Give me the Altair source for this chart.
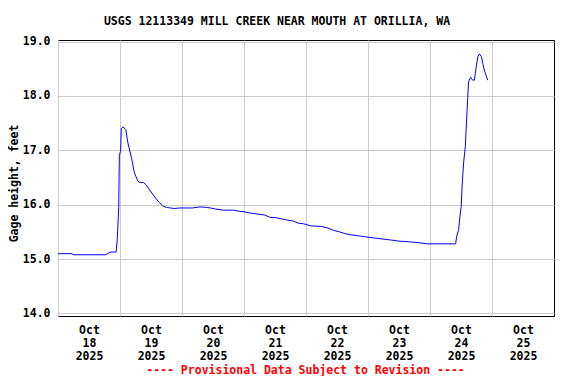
import altair as alt
import pandas as pd

# Gage height readings (UTC-like clock times, feet)
times = [
    "2025-10-18T00:00", "2025-10-18T05:30", "2025-10-18T05:45", "2025-10-18T18:30",
    "2025-10-18T19:30", "2025-10-18T20:30", "2025-10-18T22:30", "2025-10-18T23:00",
    "2025-10-18T23:30", "2025-10-18T23:45", "2025-10-19T00:15", "2025-10-19T00:30",
    "2025-10-19T01:15", "2025-10-19T02:15", "2025-10-19T03:00", "2025-10-19T04:30",
    "2025-10-19T05:30", "2025-10-19T06:45", "2025-10-19T07:30", "2025-10-19T09:00",
    "2025-10-19T10:00", "2025-10-19T11:30", "2025-10-19T13:30", "2025-10-19T15:00",
    "2025-10-19T16:30", "2025-10-19T18:00", "2025-10-19T21:00", "2025-10-19T23:00",
    "2025-10-20T04:00", "2025-10-20T07:00", "2025-10-20T09:30", "2025-10-20T11:00",
    "2025-10-20T13:00", "2025-10-20T16:00", "2025-10-20T20:00", "2025-10-20T22:00",
    "2025-10-21T00:00", "2025-10-21T02:00", "2025-10-21T05:00", "2025-10-21T08:00",
    "2025-10-21T10:00", "2025-10-21T12:30", "2025-10-21T14:30", "2025-10-21T16:30",
    "2025-10-21T19:00", "2025-10-21T21:00", "2025-10-21T23:00", "2025-10-22T02:00",
    "2025-10-22T06:00", "2025-10-22T08:30", "2025-10-22T10:30", "2025-10-22T13:00",
    "2025-10-22T15:00", "2025-10-22T17:00", "2025-10-22T20:00", "2025-10-22T23:00",
    "2025-10-23T02:00", "2025-10-23T05:30", "2025-10-23T09:00", "2025-10-23T12:00",
    "2025-10-23T15:30", "2025-10-23T20:00", "2025-10-23T23:00", "2025-10-24T09:55",
    "2025-10-24T10:20", "2025-10-24T11:05", "2025-10-24T11:35", "2025-10-24T12:05",
    "2025-10-24T12:25", "2025-10-24T13:00", "2025-10-24T13:40", "2025-10-24T14:20",
    "2025-10-24T14:55", "2025-10-24T15:40", "2025-10-24T16:30", "2025-10-24T17:10",
    "2025-10-24T18:00", "2025-10-24T18:35", "2025-10-24T19:10", "2025-10-24T19:55",
    "2025-10-24T20:25", "2025-10-24T21:10", "2025-10-24T21:55", "2025-10-24T22:20",
]
gage_ft = [
    15.10, 15.10, 15.08, 15.08,
    15.11, 15.13, 15.13, 15.40,
    15.95, 16.90, 17.00, 17.40,
    17.43, 17.38, 17.15, 16.85,
    16.60, 16.45, 16.41, 16.41,
    16.37, 16.27, 16.14, 16.05,
    15.98, 15.95, 15.93, 15.94,
    15.94, 15.96, 15.95, 15.94,
    15.92, 15.90, 15.90, 15.88,
    15.87, 15.85, 15.83, 15.81,
    15.77, 15.76, 15.74, 15.72,
    15.70, 15.66, 15.65, 15.61,
    15.60, 15.57, 15.53, 15.50,
    15.47, 15.45, 15.43, 15.41,
    15.39, 15.37, 15.35, 15.33,
    15.32, 15.30, 15.28, 15.28,
    15.42, 15.54, 15.79, 15.97,
    16.34, 16.77, 17.07, 17.71,
    18.26, 18.34, 18.29, 18.29,
    18.57, 18.73, 18.77, 18.72,
    18.60, 18.45, 18.35, 18.29,
]
day_ticks = [18, 19, 20, 21, 22, 23, 24, 25]
y_ticks = [14.0, 15.0, 16.0, 17.0, 18.0, 19.0]

df = pd.DataFrame({"time": [t + ":00Z" for t in times], "gage": gage_ft})

FONT = "DejaVu Sans Mono"

x_axis = alt.Axis(
    values=[alt.DateTime(year=2025, month=10, date=d, utc=True) for d in day_ticks],
    labelExpr="[utcFormat(datum.value, '%b'), utcFormat(datum.value, '%d'), utcFormat(datum.value, '%Y')]",
    labelOffset=31,
    labelPadding=8,
    labelLineHeight=13,
    labelBound=False,
    labelFlush=False,
    labelOverlap=False,
    ticks=False,
    domain=False,
    grid=True,
    title="---- Provisional Data Subject to Revision ----",
    titleColor="#ff0000",
    titleX=247,
    titleY=54,
    titleBaseline="middle",
    titleAlign="center",
    titleAnchor="start",
)

y_axis = alt.Axis(
    values=y_ticks,
    format=".1f",
    labelPadding=8,
    ticks=False,
    domain=False,
    grid=True,
    title="Gage height, feet",
    titleX=-44,
    titleY=143,
    titleBaseline="middle",
    titleAlign="center",
    titleAngle=270,
)

chart = (
    alt.Chart(df)
    .mark_line(color="#0000ff", strokeWidth=1, interpolate="linear")
    .encode(
        x=alt.X(
            "time:T",
            scale=alt.Scale(
                type="utc",
                domain=[
                    alt.DateTime(year=2025, month=10, date=18, utc=True),
                    alt.DateTime(year=2025, month=10, date=26, utc=True),
                ],
                nice=False,
            ),
            axis=x_axis,
        ),
        y=alt.Y(
            "gage:Q",
            scale=alt.Scale(domain=[13.954, 19.028], nice=False, zero=False),
            axis=y_axis,
        ),
    )
    .properties(
        width=496,
        height=276,
        title=alt.TitleParams(
            "USGS 12113349 MILL CREEK NEAR MOUTH AT ORILLIA, WA",
            anchor="middle",
            dx=-29,
            offset=-3,
            baseline="bottom",
            font=FONT,
            fontSize=11.5,
            fontWeight="bold",
            color="black",
        ),
        autosize=alt.AutoSizeParams(type="none"),
        padding={"left": 50, "top": 32, "right": 14, "bottom": 60},
    )
    .configure_view(stroke="black", strokeWidth=1)
    .configure_axis(
        labelFont=FONT,
        labelFontSize=11.5,
        labelFontWeight="bold",
        labelColor="black",
        titleFont=FONT,
        titleFontSize=11.5,
        titleFontWeight="bold",
        titleColor="black",
        gridColor="#cccccc",
        gridWidth=1,
        gridOpacity=1,
    )
    .configure_axisX(titleColor="#ff0000")
)

chart.save("out.html", embed_options={"renderer": "svg", "actions": False})
